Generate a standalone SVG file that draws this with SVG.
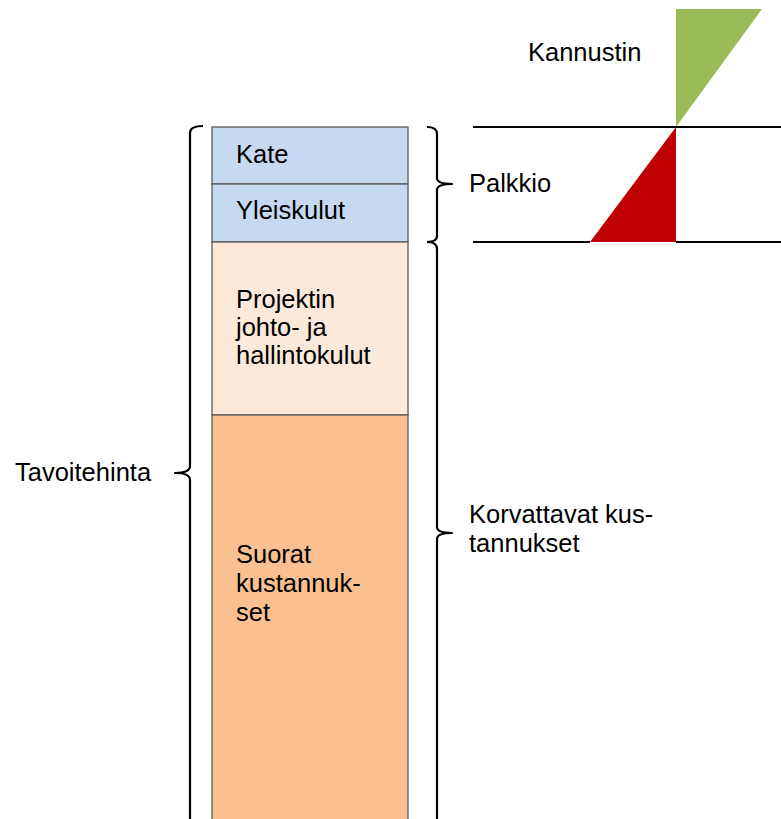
<svg xmlns="http://www.w3.org/2000/svg" width="781" height="819" viewBox="0 0 781 819">
<style>
.t{font-family:"Liberation Sans",Arial,sans-serif;font-size:25.5px;fill:#000}
.blk{stroke:#595959;stroke-width:1.3}
.br{fill:none;stroke:#000;stroke-width:2.2;stroke-linejoin:round}
.ln{stroke:#000;stroke-width:2}
</style>
<rect width="781" height="819" fill="#fff"/>
<g id="kate"><rect class="blk" x="212" y="127" width="196" height="57" fill="#C6D9F1"/><text class="t" x="236" y="163">Kate</text></g>
<g id="yleiskulut"><rect class="blk" x="212" y="184" width="196" height="58" fill="#C6D9F1"/><text class="t" x="236" y="219">Yleiskulut</text></g>
<g id="projektin"><rect class="blk" x="212" y="242" width="196" height="173" fill="#FDE9D9"/><text class="t" x="236" y="308">Projektin</text><text class="t" x="236" y="336">johto- ja</text><text class="t" x="236" y="364">hallintokulut</text></g>
<g id="suorat"><rect class="blk" x="212" y="415" width="196" height="420" fill="#FAC090"/><text class="t" x="236" y="563">Suorat</text><text class="t" x="236" y="592">kustannuk-</text><text class="t" x="236" y="621">set</text></g>
<g id="tavoitehinta"><path class="br" d="M203,126 Q190,126 190,133 L190,466 Q190,473 175,473 Q190,473 190,480 L190,830"/><text class="t" x="15" y="481">Tavoitehinta</text></g>
<g id="palkkio"><path class="br" d="M427,127 Q437,127 437,134 L437,178 Q437,184 452,184 Q437,184 437,190 L437,236 Q437,242 427,242"/><text class="t" x="469" y="192">Palkkio</text></g>
<g id="korvattavat"><path class="br" d="M427,242 Q437,242 437,249 L437,527 Q437,533 452,533 Q437,533 437,539 L437,830"/><text class="t" x="469" y="523">Korvattavat kus-</text><text class="t" x="469" y="552">tannukset</text></g>
<g id="kannustin"><polygon points="676,9 762,9 676,127" fill="#9BBB59"/><text class="t" x="528" y="61">Kannustin</text></g>
<g id="red"><polygon points="676,127 676,242 590,242" fill="#C00000"/></g>
<g id="connectors"><line class="ln" x1="473" y1="127" x2="781" y2="127"/><line class="ln" x1="473" y1="242" x2="590" y2="242"/><line class="ln" x1="676" y1="242" x2="781" y2="242"/></g>
</svg>
